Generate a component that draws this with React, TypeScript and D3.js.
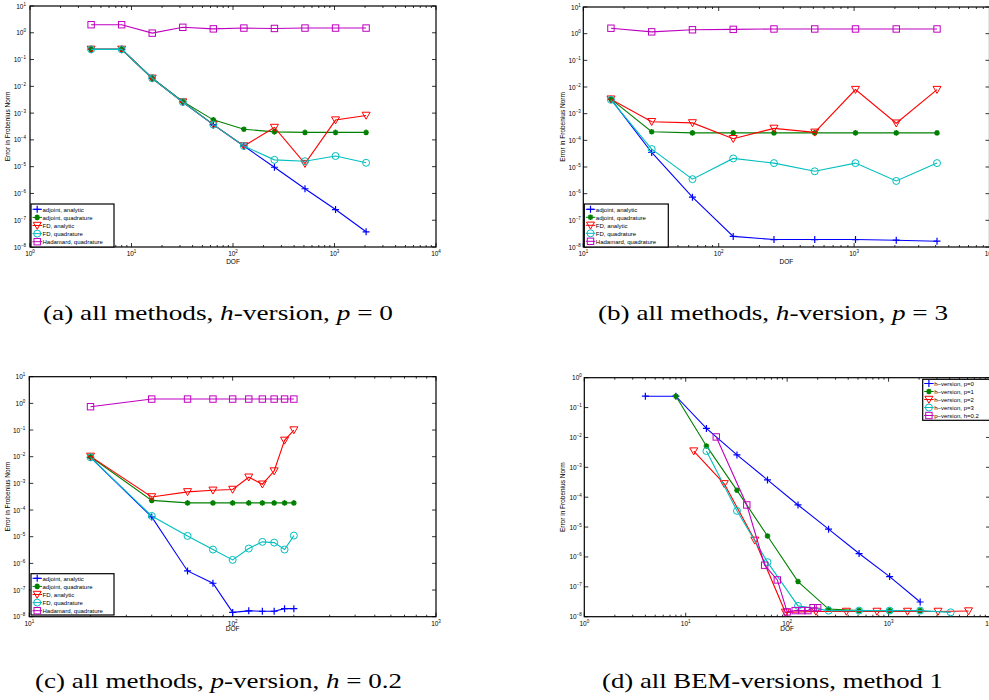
import { useEffect, useRef } from 'react';
import * as d3 from 'd3';

// ---- data ----
const dofA = [4, 8, 16, 32, 64, 128, 256, 512, 1024, 2048];
const adjAnaA = [0.24, 0.24, 0.02, 0.0026, 3.7e-4, 5.9e-5, 9.5e-6, 1.5e-6, 2.5e-7, 3.7e-8];
const adjQuadA = [0.24, 0.24, 0.02, 0.0027, 5.6e-4, 2.5e-4, 2.0e-4, 1.9e-4, 1.9e-4, 1.9e-4];
const fdAnaA = [0.24, 0.24, 0.02, 0.0026, 3.7e-4, 5.9e-5, 2.9e-4, 1.3e-5, 5.5e-4, 8.2e-4];
const fdQuadA = [0.24, 0.24, 0.02, 0.0026, 3.7e-4, 5.9e-5, 1.8e-5, 1.6e-5, 2.5e-5, 1.4e-5];
const hadA = [2.0, 2.0, 0.97, 1.6, 1.4, 1.5, 1.45, 1.5, 1.5, 1.5];

const dofB = [16, 32, 64, 128, 256, 512, 1024, 2048, 4096];
const adjAnaB = [3.5e-3, 3.5e-5, 7.4e-7, 2.5e-8, 1.9e-8, 1.9e-8, 1.9e-8, 1.8e-8, 1.65e-8];
const adjQuadB = [3.5e-3, 2.1e-4, 1.9e-4, 1.9e-4, 1.9e-4, 1.9e-4, 1.9e-4, 1.9e-4, 1.9e-4];
const fdAnaB = [3.5e-3, 5e-4, 4.5e-4, 1.15e-4, 2.8e-4, 2e-4, 8e-3, 4.4e-4, 8e-3];
const fdQuadB = [3.3e-3, 4.7e-5, 3.5e-6, 2.1e-5, 1.4e-5, 6.9e-6, 1.4e-5, 3e-6, 1.4e-5];
const hadB = [1.6, 1.17, 1.4, 1.45, 1.5, 1.5, 1.5, 1.5, 1.5];

const dofC = [20, 40, 60, 80, 100, 120, 140, 160, 180, 200];
const adjAnaC = [0.0095, 5.5e-5, 5.2e-7, 1.8e-7, 1.45e-8, 1.66e-8, 1.6e-8, 1.6e-8, 2e-8, 2e-8];
const adjQuadC = [0.01, 2.3e-4, 1.85e-4, 1.85e-4, 1.85e-4, 1.85e-4, 1.85e-4, 1.85e-4, 1.85e-4, 1.85e-4];
const fdAnaC = [0.0103, 3.1e-4, 4.8e-4, 5.5e-4, 5.9e-4, 1.7e-3, 9.3e-4, 2.9e-3, 0.041, 0.1];
const fdQuadC = [0.0095, 6e-5, 1.07e-5, 3.3e-6, 1.35e-6, 3.6e-6, 6.4e-6, 6e-6, 3.3e-6, 1.1e-5];
const hadC = [0.75, 1.45, 1.45, 1.45, 1.45, 1.45, 1.45, 1.45, 1.45, 1.45];

const dofP1 = [8, 16, 32, 64, 128, 256, 512, 1024, 2048];
const dofP2 = [12, 24, 48, 96, 192, 384, 768, 1536, 3072, 6144];
const hP0 = [0.24, 0.24, 0.02, 2.6e-3, 3.8e-4, 5.5e-5, 8.5e-6, 1.3e-6, 2.2e-7, 3.1e-8];
const hP1 = [0.24, 5.2e-3, 1.7e-4, 5e-6, 1.5e-7, 1.8e-8, 1.6e-8, 1.6e-8, 1.6e-8];
const hP2 = [3.5e-3, 2.8e-4, 3.6e-6, 1.4e-8, 1.5e-8, 1.5e-8, 1.5e-8, 1.5e-8, 1.5e-8, 1.55e-8];
const hP3 = [3.5e-3, 3.5e-5, 6.7e-7, 2.3e-8, 1.6e-8, 1.6e-8, 1.6e-8, 1.6e-8, 1.4e-8];
const pV = [0.0104, 5.5e-5, 5.3e-7, 1.7e-7, 1.45e-8, 1.6e-8, 1.6e-8, 1.6e-8, 2e-8, 2e-8];

const methodNames = ['adjoint, analytic', 'adjoint, quadrature', 'FD, analytic', 'FD, quadrature', 'Hadamard, quadrature'];
const versionNames = ['h\u2212version, p=0', 'h\u2212version, p=1', 'h\u2212version, p=2', 'h\u2212version, p=3', 'p\u2212version, h=0.2'];

const colors = ['#0000ff', '#008000', '#ff0000', '#00bfbf', '#bf00bf'];
const markers = ['+', '*', 'v', 'o', 's'];

const methodSeries = (x, ys) => ys.map((y, i) => ({ name: methodNames[i], x, y, color: colors[i], marker: markers[i] }));

const panels = [
  {
    left: 30, right: 436, top: 6, bottom: 247, xDomain: [1, 1e4], yDomain: [1e-8, 10],
    series: methodSeries(dofA, [adjAnaA, adjQuadA, fdAnaA, fdQuadA, hadA]),
    legend: { x: 31, y: 204, w: 83, h: 43, row0: 209.3, step: 8.1 },
    ylabX: 10, ytGap: 4, dofY: 264, caption: ['(a) all methods, ', ['h', true], '-version, ', ['p', true], ' = 0'],
    capX: 43, capW: 350, capY: 320,
  },
  {
    left: 583.3, right: 989.5, top: 7, bottom: 247, xDomain: [10, 1e4], yDomain: [1e-8, 10],
    series: methodSeries(dofB, [adjAnaB, adjQuadB, fdAnaB, fdQuadB, hadB]),
    legend: { x: 584.3, y: 204, w: 84, h: 43, row0: 209.3, step: 8 },
    ylabX: 565, ytGap: 2.5, dofY: 264, caption: ['(b) all methods, ', ['h', true], '-version, ', ['p', true], ' = 3'],
    capX: 598, capW: 350, capY: 320,
  },
  {
    left: 29.3, right: 436, top: 376.7, bottom: 616.7, xDomain: [10, 1e3], yDomain: [1e-8, 10],
    series: methodSeries(dofC, [adjAnaC, adjQuadC, fdAnaC, fdQuadC, hadC]),
    legend: { x: 31, y: 573.7, w: 83, h: 41.3, row0: 578.3, step: 8.1 },
    ylabX: 10, ytGap: 4, dofY: 631, caption: ['(c) all methods, ', ['p', true], '-version, ', ['h', true], ' = 0.2'],
    capX: 35, capW: 367, capY: 688.3,
  },
  {
    left: 584.3, right: 990, top: 377.7, bottom: 616.7, xDomain: [1, 1e4], yDomain: [1e-8, 1],
    series: [
      { name: versionNames[0], x: dofA, y: hP0, color: colors[0], marker: '+' },
      { name: versionNames[1], x: dofP1, y: hP1, color: colors[1], marker: '*' },
      { name: versionNames[2], x: dofP2, y: hP2, color: colors[2], marker: 'v' },
      { name: versionNames[3], x: dofB, y: hP3, color: colors[3], marker: 'o' },
      { name: versionNames[4], x: dofC, y: pV, color: colors[4], marker: 's' },
    ],
    legend: { x: 922.7, y: 379.3, w: 80, h: 41, row0: 383.5, step: 8 },
    ylabX: 565, ytGap: 2.5, dofY: 631, caption: ['(d) all BEM-versions, method 1'],
    capX: 602, capW: 341, capY: 688.3,
  },
];

function drawMarker(g, type, cx, cy, color) {
  if (type === '+') {
    g.append('path').attr('d', `M${cx - 3.5},${cy}H${cx + 3.5}M${cx},${cy - 3.5}V${cy + 3.5}`)
      .attr('stroke', color).attr('stroke-width', 1.2).attr('fill', 'none');
  } else if (type === '*') {
    const a = 2;
    g.append('path')
      .attr('d', `M${cx - 2.8},${cy}H${cx + 2.8}M${cx},${cy - 2.8}V${cy + 2.8}M${cx - a},${cy - a}L${cx + a},${cy + a}M${cx - a},${cy + a}L${cx + a},${cy - a}`)
      .attr('stroke', color).attr('stroke-width', 1.5).attr('fill', 'none');
  } else if (type === 'v') {
    g.append('path').attr('d', `M${cx - 4},${cy - 3.2}L${cx + 4},${cy - 3.2}L${cx},${cy + 3.8}Z`)
      .attr('stroke', color).attr('stroke-width', 1).attr('fill', 'none');
  } else if (type === 'o') {
    g.append('circle').attr('cx', cx).attr('cy', cy).attr('r', 3.5)
      .attr('stroke', color).attr('stroke-width', 1).attr('fill', 'none');
  } else if (type === 's') {
    g.append('rect').attr('x', cx - 3.2).attr('y', cy - 3.2).attr('width', 6.4).attr('height', 6.4)
      .attr('stroke', color).attr('stroke-width', 1).attr('fill', 'none');
  }
}

function powLabel(sel, exp) {
  sel.append('tspan').text('10');
  sel.append('tspan').attr('dy', -3).attr('font-size', 4.5).text(String(exp).replace('-', '\u2212'));
}

function drawPanel(svg, p) {
  const x = d3.scaleLog().domain(p.xDomain).range([p.left, p.right]);
  const y = d3.scaleLog().domain(p.yDomain).range([p.bottom, p.top]);
  const g = svg.append('g').attr('font-family', 'Liberation Sans, Arial, sans-serif');

  g.append('rect')
    .attr('x', p.left).attr('y', p.top)
    .attr('width', p.right - p.left).attr('height', p.bottom - p.top)
    .attr('fill', 'white').attr('stroke', 'black').attr('stroke-width', 1.2);

  const x0 = Math.round(Math.log10(p.xDomain[0]));
  const x1 = Math.round(Math.log10(p.xDomain[1]));
  const y0 = Math.round(Math.log10(p.yDomain[0]));
  const y1 = Math.round(Math.log10(p.yDomain[1]));

  const ticks = g.append('g').attr('stroke', 'black').attr('stroke-width', 0.8);
  for (let e = x0; e <= x1; e++) {
    const px = x(Math.pow(10, e));
    ticks.append('line').attr('x1', px).attr('x2', px).attr('y1', p.bottom).attr('y2', p.bottom - 4);
    ticks.append('line').attr('x1', px).attr('x2', px).attr('y1', p.top).attr('y2', p.top + 4);
    g.append('text').attr('x', px).attr('y', p.bottom + 9).attr('font-size', 6.5)
      .attr('text-anchor', 'middle').call(powLabel, e);
    if (e < x1) {
      for (let m = 2; m <= 9; m++) {
        const mx = x(m * Math.pow(10, e));
        ticks.append('line').attr('x1', mx).attr('x2', mx).attr('y1', p.bottom).attr('y2', p.bottom - 2);
        ticks.append('line').attr('x1', mx).attr('x2', mx).attr('y1', p.top).attr('y2', p.top + 2);
      }
    }
  }
  for (let e = y0; e <= y1; e++) {
    const py = y(Math.pow(10, e));
    ticks.append('line').attr('x1', p.left).attr('x2', p.left + 4).attr('y1', py).attr('y2', py);
    ticks.append('line').attr('x1', p.right).attr('x2', p.right - 4).attr('y1', py).attr('y2', py);
    g.append('text').attr('x', p.left - p.ytGap).attr('y', py + 2.5).attr('font-size', 6.5)
      .attr('text-anchor', 'end').call(powLabel, e);
  }

  g.append('text').attr('x', (p.left + p.right) / 2).attr('y', p.dofY)
    .attr('font-size', 6.5).attr('text-anchor', 'middle').text('DOF');
  g.append('text')
    .attr('transform', `translate(${p.ylabX},${(p.top + p.bottom) / 2}) rotate(-90)`)
    .attr('font-size', 6.5).attr('text-anchor', 'middle').text('Error in Frobenius Norm');

  const line = d3.line().x(d => x(d[0])).y(d => y(d[1]));
  p.series.forEach(s => {
    const pts = s.x.map((v, i) => [v, s.y[i]]);
    g.append('path').datum(pts).attr('d', line)
      .attr('fill', 'none').attr('stroke', s.color).attr('stroke-width', 1.1);
    const mg = g.append('g');
    pts.forEach(d => drawMarker(mg, s.marker, x(d[0]), y(d[1]), s.color));
  });

  // legend
  const L = p.legend;
  const lg = g.append('g');
  lg.append('rect').attr('x', L.x).attr('y', L.y).attr('width', L.w).attr('height', L.h)
    .attr('fill', 'white').attr('stroke', 'black').attr('stroke-width', 1.2);
  p.series.forEach((s, i) => {
    const ry = L.row0 + i * L.step;
    lg.append('line').attr('x1', L.x + 1.5).attr('x2', L.x + 11).attr('y1', ry).attr('y2', ry)
      .attr('stroke', s.color).attr('stroke-width', 1);
    drawMarker(lg, s.marker, L.x + 6.2, ry, s.color);
    lg.append('text').attr('x', L.x + 11.5).attr('y', ry + 2.2).attr('font-size', 6).text(s.name);
  });

  // caption
  const cap = svg.append('text').attr('x', p.capX).attr('y', p.capY)
    .attr('font-family', 'Liberation Serif, Times New Roman, serif').attr('font-size', 21)
    .attr('textLength', p.capW).attr('lengthAdjust', 'spacingAndGlyphs')
    .attr('xml:space', 'preserve').style('white-space', 'pre');
  p.caption.forEach(part => {
    if (Array.isArray(part)) cap.append('tspan').attr('font-style', 'italic').text(part[0]);
    else cap.append('tspan').text(part);
  });
}

export default function App() {
  const svgRef = useRef(null);

  useEffect(() => {
    const svg = d3.select(svgRef.current);
    svg.selectAll('*').remove();
    svg.append('rect').attr('width', 989).attr('height', 700).attr('fill', 'white');
    panels.forEach(p => drawPanel(svg, p));
  }, []);

  return (
    <svg ref={svgRef} width="989" height="700"
      style={{ position: 'absolute', left: 0, top: 0, display: 'block' }}></svg>
  );
}
